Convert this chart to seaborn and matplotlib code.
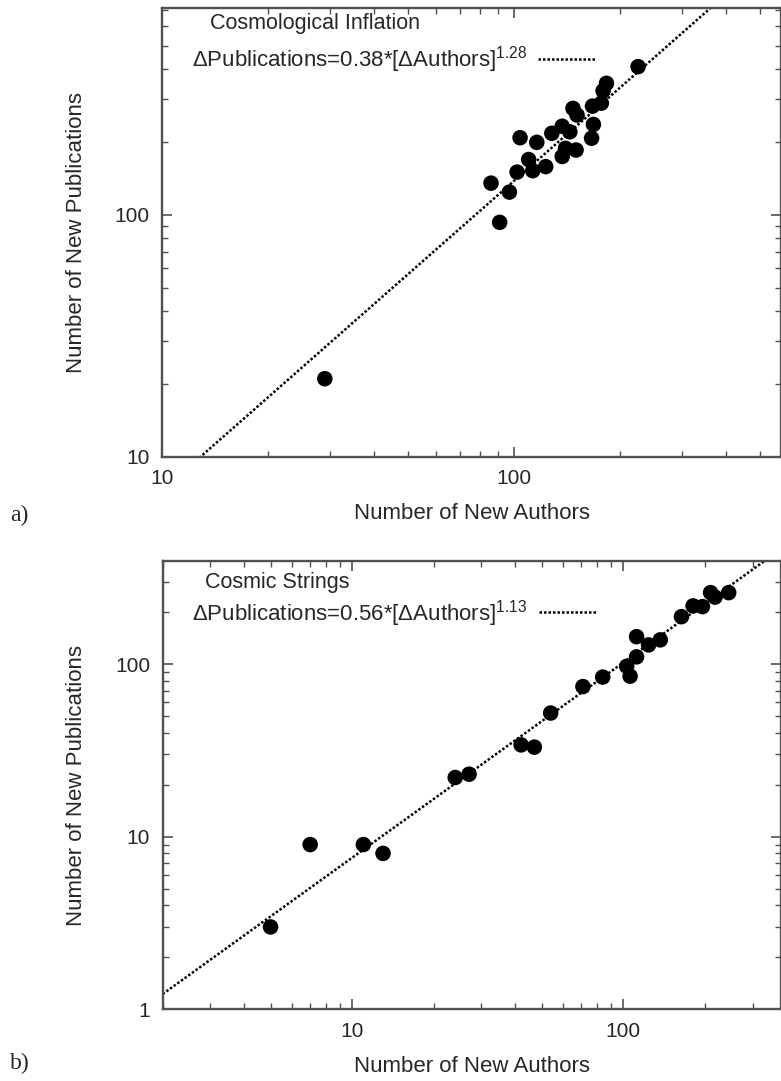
import numpy as np
import pandas as pd
import matplotlib
matplotlib.use("Agg")
import matplotlib.pyplot as plt
import seaborn as sns
from matplotlib.ticker import LogLocator, FuncFormatter, NullFormatter

# a) Cosmological Inflation - new authors vs new publications
infl_authors = [29, 91, 86, 97, 102, 104, 110, 113, 116, 123, 128, 137, 140,
                137, 144, 147, 150, 151, 166, 167, 168, 177, 179, 183, 225]
infl_pubs = [21, 93, 135, 124, 150, 208, 169, 152, 199, 158, 217, 174, 188,
             232, 220, 275, 185, 258, 207, 281, 236, 289, 325, 349, 409]
infl_coef, infl_expo = 0.38, 1.28

# b) Cosmic Strings
str_authors = [5, 7, 11, 13, 24, 27, 42, 47, 54, 71, 84, 103, 106, 112, 112,
               124, 137, 164, 181, 196, 210, 218, 245]
str_pubs = [3, 9, 9, 8, 22, 23, 34, 33, 52, 74, 84, 97, 85, 110, 144,
            129, 138, 188, 217, 215, 259, 244, 259]
str_coef, str_expo = 0.56, 1.13

sns.set_theme(style="ticks")
plt.rcParams['font.family'] = ['Liberation Sans', 'DejaVu Sans']
plt.rcParams['mathtext.fontset'] = 'custom'
plt.rcParams['mathtext.rm'] = 'Liberation Sans'
plt.rcParams['mathtext.it'] = 'Liberation Sans:italic'

SPINE = '#505050'
W, H = 781, 1081


def draw_panel(ax, authors, pubs, coef, expo, xlim, ylim, title, title_xy, leg_xy):
    df = pd.DataFrame({"authors": authors, "pubs": pubs})

    # fitted power law across the visible x range
    fx = np.geomspace(xlim[0], xlim[1], 50)
    fit = pd.DataFrame({"authors": fx, "pubs": coef * fx ** expo})
    sns.lineplot(data=fit, x="authors", y="pubs", ax=ax, color='black',
                 linestyle=(0, (1, 0.8)), linewidth=1.8, estimator=None)
    sns.scatterplot(data=df, x="authors", y="pubs", ax=ax, color='black',
                    s=125, edgecolor='none', legend=False, zorder=3)

    ax.set_xscale('log')
    ax.set_yscale('log')
    ax.set_xlim(*xlim)
    ax.set_ylim(*ylim)

    for axis in (ax.xaxis, ax.yaxis):
        axis.set_major_locator(LogLocator(base=10))
        axis.set_minor_locator(LogLocator(base=10, subs=np.arange(2, 10)))
        axis.set_major_formatter(FuncFormatter(lambda v, p: f"{v:g}"))
        axis.set_minor_formatter(NullFormatter())

    ax.tick_params(which='both', direction='in', top=True, right=True,
                   color=SPINE, labelsize=15, pad=9)
    ax.tick_params(which='major', length=7, width=1.2)
    ax.tick_params(which='minor', length=4, width=1.0)
    for sp in ax.spines.values():
        sp.set_color(SPINE)
        sp.set_linewidth(1.7)

    ax.set_xlabel("Number of New Authors", fontsize=16, labelpad=11)
    ax.set_ylabel("Number of New Publications", fontsize=16, labelpad=20)

    ax.text(title_xy[0], title_xy[1], title, transform=ax.transAxes,
            fontsize=15.5, ha='left', va='center')
    line = ax.get_lines()[0]
    label = f"\u0394Publications={coef:.2f}*[\u0394Authors]$^{{\\mathrm{{{expo:.2f}}}}}$"
    ax.legend([line], [label], loc='upper left', bbox_to_anchor=leg_xy,
              frameon=False, markerfirst=False, fontsize=16,
              handlelength=2.6, handletextpad=0.5, borderpad=0,
              borderaxespad=0)


fig = plt.figure(figsize=(W / 100, H / 100), dpi=100)

ax_a = fig.add_axes([162 / W, 1 - 456.7 / H, 619 / W, 449.2 / H])
draw_panel(ax_a, infl_authors, infl_pubs, infl_coef, infl_expo,
           (10, 573), (10, 718), "Cosmological Inflation",
           (0.078, 0.964), (0.048, 0.918))

ax_b = fig.add_axes([162.7 / W, 1 - 1009.3 / H, 618.3 / W, 448.3 / H])
draw_panel(ax_b, str_authors, str_pubs, str_coef, str_expo,
           (2.0, 382), (1, 395), "Cosmic Strings",
           (0.068, 0.952), (0.048, 0.918))

fig.text(10 / W, 1 - 515 / H, "a)", family='Liberation Serif', fontsize=17,
         ha='left', va='center')
fig.text(10 / W, 1 - 1063 / H, "b)", family='Liberation Serif', fontsize=17,
         ha='left', va='center')

fig.savefig("out.png", dpi=100)
